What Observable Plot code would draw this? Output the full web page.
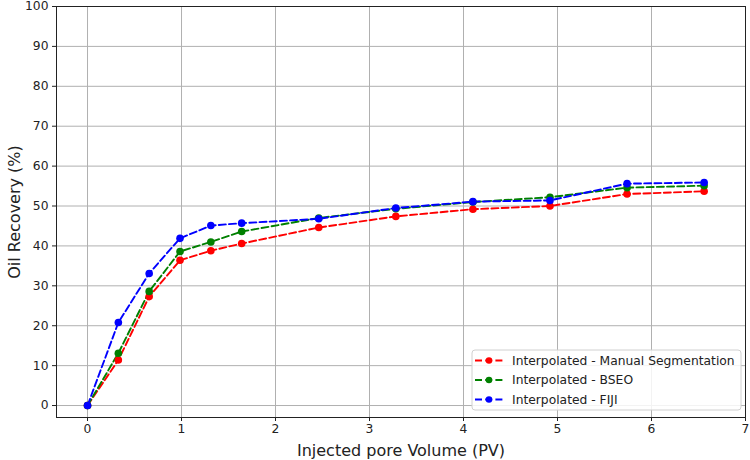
<!DOCTYPE html>
<html>
<head>
<meta charset="utf-8">
<script src="https://cdn.jsdelivr.net/npm/d3@7"></script>
<script src="https://cdn.jsdelivr.net/npm/@observablehq/plot@0.6"></script>
<style>
  html, body { margin: 0; padding: 0; background: #fff; }
  #chart svg { font-family: "DejaVu Sans", sans-serif; }
</style>
</head>
<body>
<div id="chart"></div>
<script>
const pv = [0, 0.328, 0.656, 0.984, 1.312, 1.64, 2.46, 3.28, 4.10, 4.92, 5.74, 6.56];
const manual = [0, 11.4, 27.3, 36.4, 38.8, 40.6, 44.6, 47.4, 49.2, 50.0, 53.0, 53.7];
const bseo   = [0, 13.1, 28.6, 38.6, 41.0, 43.6, 47.0, 49.3, 51.0, 52.2, 54.6, 55.1];
const fiji   = [0, 20.8, 33.1, 41.9, 45.1, 45.7, 46.8, 49.5, 51.1, 51.4, 55.6, 55.9];
const seriesNames = ["Interpolated - Manual Segmentation", "Interpolated - BSEO", "Interpolated - FIJI"];
const seriesColors = ["#ff0000", "#008000", "#0000ff"];
const xTicks = [0, 1, 2, 3, 4, 5, 6, 7];
const yTicks = [0, 10, 20, 30, 40, 50, 60, 70, 80, 90, 100];

const seriesValues = [manual, bseo, fiji];
const data = [];
seriesValues.forEach((vals, s) => vals.forEach((v, i) => data.push({series: seriesNames[s], x: pv[i], y: v})));

const plot = Plot.plot({
  width: 750,
  height: 460,
  marginLeft: 56,
  marginRight: 5,
  marginTop: 6,
  marginBottom: 43,
  style: {fontFamily: "DejaVu Sans, sans-serif", fontSize: "12.3px", color: "#222"},
  x: {domain: [-0.33, 7.0], ticks: xTicks},
  y: {domain: [-3, 100], ticks: yTicks},
  color: {domain: seriesNames, range: seriesColors},
  marks: [
    Plot.gridX(xTicks, {stroke: "#b0b0b0", strokeOpacity: 1, strokeWidth: 1}),
    Plot.gridY(yTicks, {stroke: "#b0b0b0", strokeOpacity: 1, strokeWidth: 1}),
    Plot.line(data, {x: "x", y: "y", z: "series", stroke: "series", strokeWidth: 1.9, strokeDasharray: "7,3.2"}),
    Plot.dot(data, {x: "x", y: "y", fill: "series", r: 3.8, stroke: null}),
    Plot.frame({stroke: "#222", strokeWidth: 1}),
    Plot.axisX(xTicks, {tickSize: 4, tickPadding: 3, label: "Injected pore Volume (PV)", labelAnchor: "center", labelArrow: "none", labelOffset: 38}),
    Plot.axisY(yTicks, {tickSize: 4, tickPadding: 4, label: "Oil Recovery (%)", labelAnchor: "center", labelArrow: "none", labelOffset: 48})
  ]
});

document.getElementById("chart").appendChild(plot);

const svg = d3.select(plot);
svg.selectAll('g[aria-label="x-axis label"] text, g[aria-label="y-axis label"] text')
  .style("font-size", "16px").style("fill", "#222");

// Legend
const lg = svg.append("g").attr("font-family", "DejaVu Sans, sans-serif").attr("font-size", "12.3px").attr("text-anchor", "start");
const lx = 472, ly = 350, lw = 269, lh = 60;
lg.append("rect").attr("x", lx).attr("y", ly).attr("width", lw).attr("height", lh)
  .attr("rx", 3).attr("fill", "#fff").attr("fill-opacity", 0.85).attr("stroke", "#d0d0d0");
seriesNames.forEach((name, i) => {
  const cy = ly + 10.5 + i * 19.5;
  lg.append("line").attr("x1", lx + 3).attr("x2", lx + 31).attr("y1", cy).attr("y2", cy)
    .attr("stroke", seriesColors[i]).attr("stroke-width", 1.9).attr("stroke-dasharray", "7,3.2");
  lg.append("circle").attr("cx", lx + 17).attr("cy", cy).attr("r", 3.3).attr("fill", seriesColors[i]);
  lg.append("text").attr("x", lx + 40).attr("y", cy).attr("dy", "0.35em").attr("text-anchor", "start").attr("fill", "#222").text(name);
});
</script>
</body>
</html>
